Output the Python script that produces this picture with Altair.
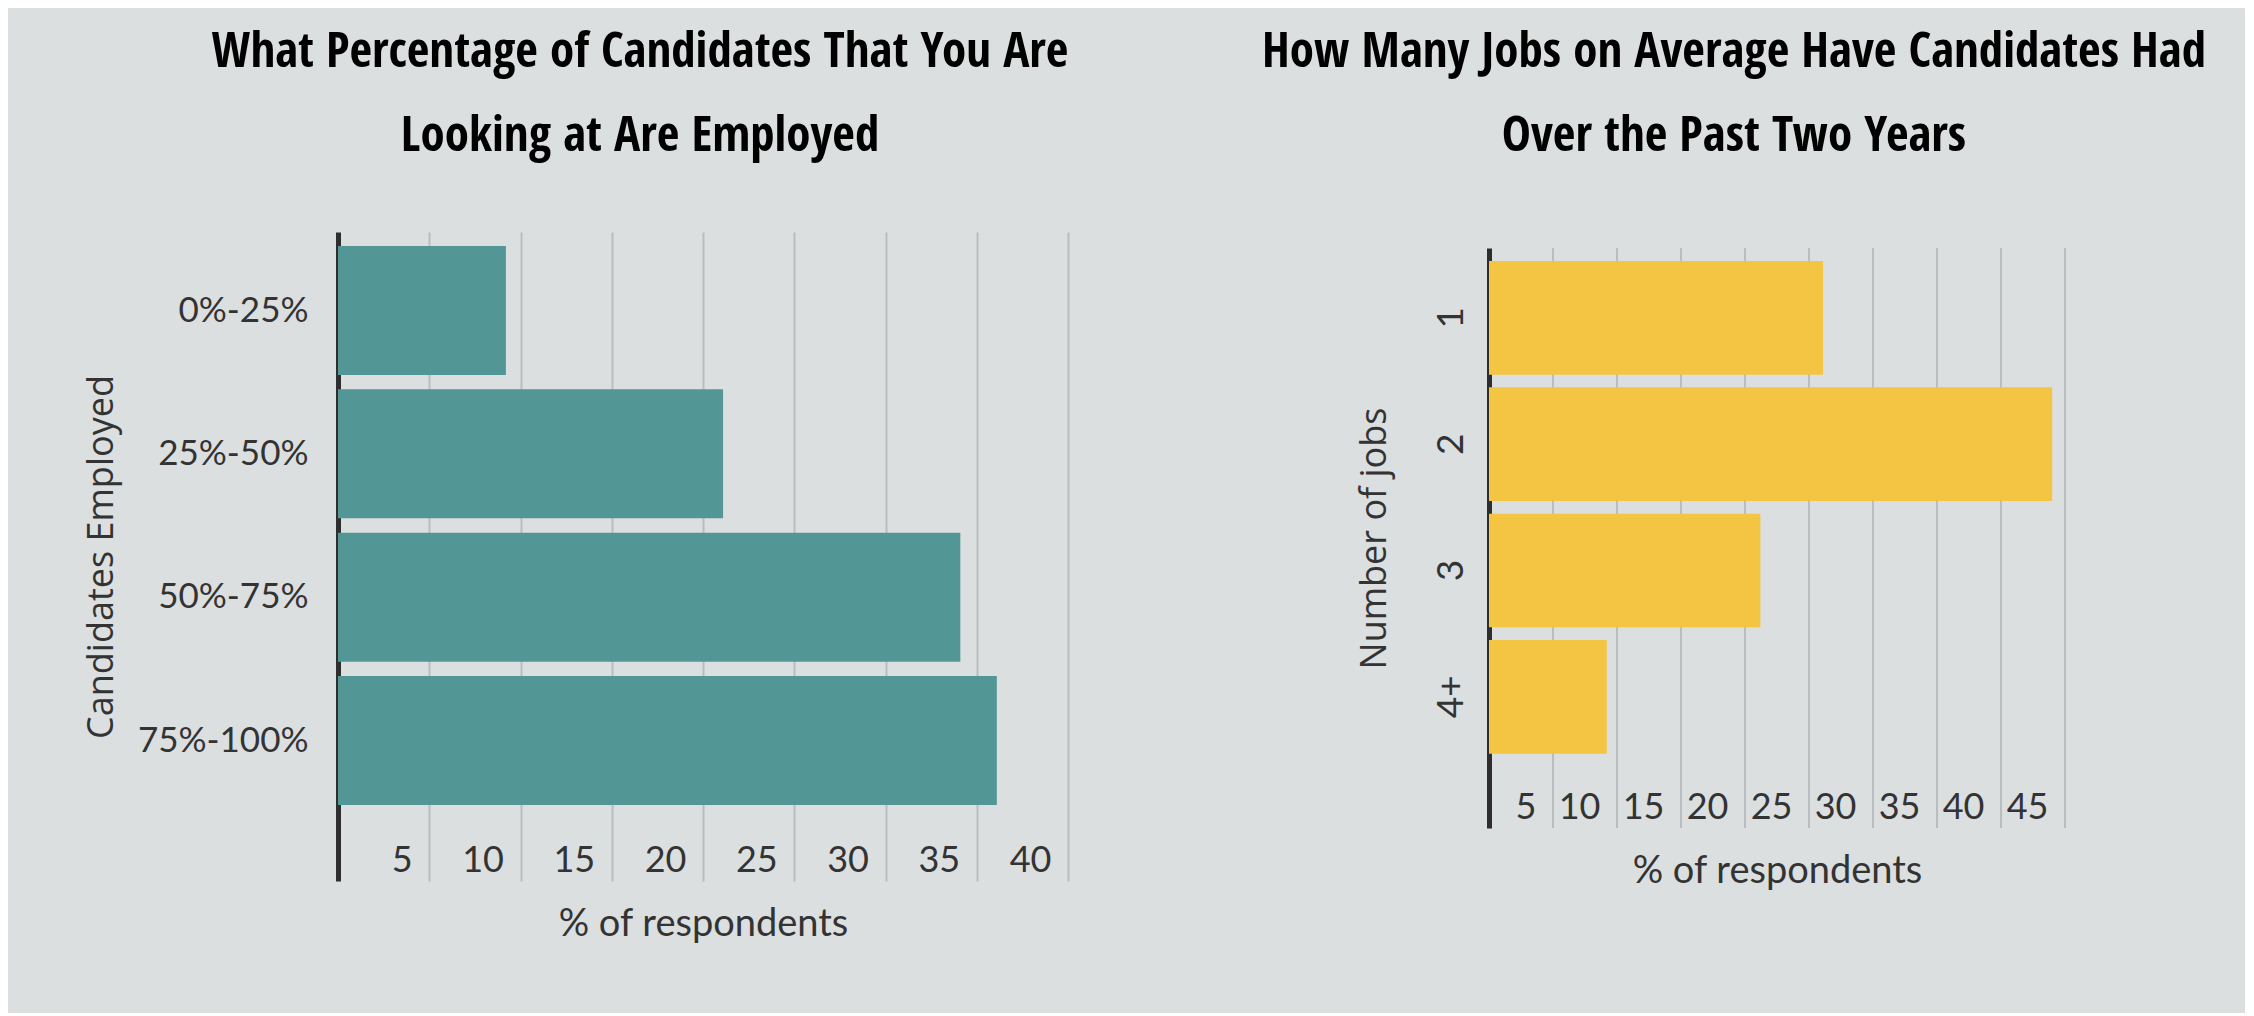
import altair as alt
import pandas as pd

# ---- data ----
left_categories = ["0%-25%", "25%-50%", "50%-75%", "75%-100%"]
left_values = [9.2, 21.1, 34.1, 36.1]
left_ticks = [5, 10, 15, 20, 25, 30, 35, 40]

right_categories = ["1", "2", "3", "4+"]
right_values = [26.1, 44.0, 21.2, 9.2]
right_ticks = [5, 10, 15, 20, 25, 30, 35, 40, 45]

left_title = ["What Percentage of Candidates That You Are", "Looking at Are Employed"]
right_title = ["How Many Jobs on Average Have Candidates Had", "Over the Past Two Years"]

# ---- style ----
BG = "#dcdfe0"
TEXT = "#333333"
GRID = "#b9bdbf"
TEAL = "#529795"
YELLOW = "#f4c443"
LABEL_FONT = "Lato"
YTITLE_FONT = "Open Sans"
TITLE_FONT = ("Noto Sans ExtraCondensed, Open Sans Condensed, Roboto Condensed, "
              "Liberation Sans Narrow, Noto Sans Condensed, Roboto")

left_df = pd.DataFrame({"cat": left_categories, "pct": left_values})
right_df = pd.DataFrame({"cat": right_categories, "pct": right_values})
right_grid_df = pd.DataFrame({"t": right_ticks})


def x_axis(ticks, grid):
    return alt.Axis(
        values=ticks, grid=grid, gridColor=GRID, gridWidth=2,
        domain=False, ticks=False,
        labelAlign="right", labelBaseline="alphabetic",
        labelOffset=-17, labelPadding=-10, labelFlush=False,
        labelFont=LABEL_FONT, labelFontSize=36, labelColor=TEXT,
        title="% of respondents", titleFont=LABEL_FONT, titleFontSize=38,
        titleFontWeight="normal", titleColor=TEXT, titlePadding=24,
    )


def title_params(text, dx):
    return alt.TitleParams(
        text=text, font=TITLE_FONT, fontSize=49, fontWeight="bold",
        color="black", lineHeight=84, anchor="middle", frame="group",
        dx=dx, offset=71,
    )


left = alt.Chart(left_df).mark_bar(color=TEAL).encode(
    x=alt.X("pct:Q", scale=alt.Scale(domain=[0, 40], nice=False), axis=x_axis(left_ticks, True)),
    y=alt.Y(
        "cat:N", sort=left_categories,
        scale=alt.Scale(paddingInner=0.1, paddingOuter=0.314, align=0.156),
        axis=alt.Axis(
            domain=True, domainColor="#2e2e2e", domainWidth=5, ticks=False, grid=False,
            labelPadding=30, labelFont=LABEL_FONT, labelFontSize=35, labelColor=TEXT,
            title="Candidates Employed", titleFont=YTITLE_FONT, titleFontSize=36,
            titleFontWeight="normal", titleColor=TEXT, titleBaseline="alphabetic",
            titleX=-226,
        ),
    ),
).properties(width=730, height=649, title=title_params(left_title, -63))

# right panel: plot area starts 16px lower than the left one
x_right = alt.Scale(domain=[0, 45], nice=False)
right_grid = alt.Chart(right_grid_df).mark_rule(color=GRID, strokeWidth=2).encode(
    x=alt.X("t:Q", scale=x_right, axis=x_axis(right_ticks, False)),
    y=alt.value(16),
    y2=alt.value(596),
)
right_bars = alt.Chart(right_df).mark_bar(color=YELLOW).encode(
    x=alt.X("pct:Q", scale=x_right, axis=x_axis(right_ticks, False)),
    y=alt.Y(
        "cat:N", sort=right_categories,
        scale=alt.Scale(range=[16, 596], paddingInner=0.1, paddingOuter=0.3456, align=0.149),
        axis=alt.Axis(
            domain=True, domainColor="#2e2e2e", domainWidth=5, ticks=False, grid=False,
            labelAngle=270, labelAlign="center", labelBaseline="alphabetic",
            labelPadding=27, labelFont=LABEL_FONT, labelFontSize=37, labelColor=TEXT,
            title="Number of jobs", titleFont=YTITLE_FONT, titleFontSize=36,
            titleFontWeight="normal", titleColor=TEXT, titleBaseline="alphabetic",
            titleX=-104,
        ),
    ),
)
right = alt.layer(right_grid, right_bars).properties(
    width=576, height=596, title=title_params(right_title, -43)
)

chart = alt.hconcat(left, right, spacing=421, bounds="flush").properties(
    background=BG,
    padding={"left": 75, "top": 20, "right": 38, "bottom": 70},
).configure_view(stroke=None)

chart.save("out.html", embed_options={"renderer": "svg", "actions": False})
